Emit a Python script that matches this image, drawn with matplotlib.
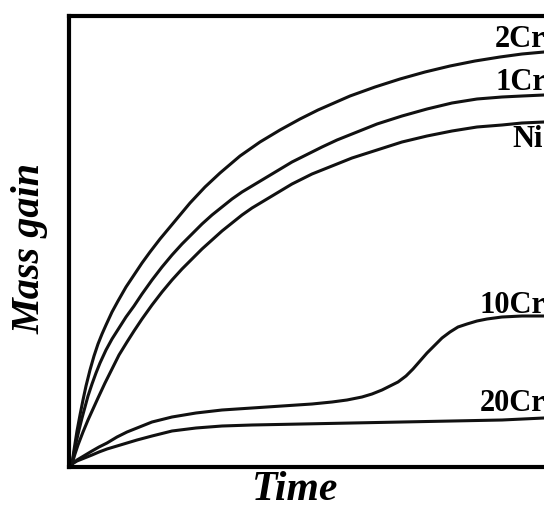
import matplotlib.pyplot as plt

# curve points (arbitrary units, origin at the corner)
t_2cr = [0, 2, 5, 8, 11, 14, 18, 22, 26, 30, 34, 40, 46, 54, 62, 70, 78, 88, 98, 108, 118, 133, 148,
         168, 188, 208, 228, 246, 262, 278, 303, 328, 353, 378, 403, 428, 450, 472]
m_2cr = [0, 14, 33, 49, 64, 78, 94, 108, 120, 130, 139, 152, 163, 177, 189, 201, 212, 225, 237, 249, 261, 277, 291,
         308, 322, 334, 345, 354, 361, 368, 377, 385, 392, 398, 403, 407, 410, 412]

t_1cr = [0, 2, 4, 7, 10, 13, 16, 20, 24, 28, 34, 40, 47, 54, 62, 70, 80, 90, 100, 110, 120, 130, 140, 150,
         160, 170, 180, 190, 200, 210, 220, 230, 240, 250, 265, 280, 305, 330, 355, 380, 405, 430, 450, 472]
m_1cr = [0, 11, 21, 34, 46, 57, 68, 80, 91, 101, 114, 125, 136, 147, 158, 170, 184, 197, 209, 220, 230, 240, 249, 257,
         265, 272, 278, 284, 290, 296, 302, 307, 312, 317, 324, 330, 340, 348, 355, 361, 365, 367, 368, 369]

t_ni = [0, 3, 6, 11, 16, 21, 26, 33, 40, 47, 55, 62, 70, 80, 90, 100, 110, 120, 130, 140, 150, 160, 170,
        180, 190, 200, 210, 220, 230, 240, 250, 265, 280, 305, 330, 355, 380, 405, 430, 450, 472]
m_ni = [0, 10, 19, 32, 44, 55, 66, 81, 95, 109, 122, 133, 145, 159, 172, 184, 195, 205, 215, 224, 233, 241, 249,
        256, 262, 268, 274, 280, 285, 290, 294, 300, 306, 314, 322, 328, 333, 337, 339, 341, 342]

t_10cr = [0, 5, 10, 15, 20, 27, 35, 45, 55, 65, 80, 100, 124, 150, 180, 210, 240, 260, 275, 290, 300, 310, 318,
          326, 334, 341, 348, 355, 362, 370, 378, 386, 395, 405, 415, 430, 450, 472]
m_10cr = [0, 4, 7, 10, 13, 17, 21, 27, 32, 36, 42, 47, 51, 54, 56, 58, 60, 62, 64, 67, 70, 74, 78,
          82, 88, 95, 103, 111, 118, 126, 132, 137, 140, 143, 145, 147, 148, 148]

t_20cr = [0, 5, 10, 15, 20, 27, 35, 45, 55, 65, 80, 100, 124, 150, 180, 230, 280, 330, 380, 430, 472]
m_20cr = [0, 3, 5, 7, 9, 12, 15, 18, 21, 24, 28, 33, 36, 38, 39, 40, 41, 42, 43, 44, 46]

labels = ["2Cr", "1Cr", "Ni", "10Cr", "20Cr"]
label_x = [423, 423, 440, 408, 408]
label_y = [418, 375, 318, 152, 54]

serif = ["Liberation Serif", "DejaVu Serif"]

fig = plt.figure(figsize=(5.44, 5.10), dpi=100)
ax = fig.add_axes([69 / 544, 42 / 510, 1 - 69 / 544, 451 / 510])

for t, m in [(t_2cr, m_2cr), (t_1cr, m_1cr), (t_ni, m_ni), (t_10cr, m_10cr), (t_20cr, m_20cr)]:
    ax.plot(t, m, color="#111111", lw=2.2, solid_capstyle="round", solid_joinstyle="round")

for lab, x, y in zip(labels, label_x, label_y):
    ax.text(x, y, lab, family=serif, fontweight="bold", fontsize=22, va="baseline", ha="left", clip_on=False)

ax.set_xlim(-3, 472)
ax.set_ylim(-3, 448)
ax.set_xticks([])
ax.set_yticks([])
ax.spines["right"].set_visible(False)
for s in ["left", "bottom", "top"]:
    ax.spines[s].set_linewidth(3)
    ax.spines[s].set_color("black")

fig.text(30 / 544, 1 - 248 / 510, "Mass gain", rotation=90, ha="center", va="center",
         family=serif, fontweight="bold", fontstyle="italic", fontsize=29)
fig.text(295 / 544, 1 - 490 / 510, "Time", ha="center", va="center",
         family=serif, fontweight="bold", fontstyle="italic", fontsize=30)

fig.savefig("out.png", dpi=100)
